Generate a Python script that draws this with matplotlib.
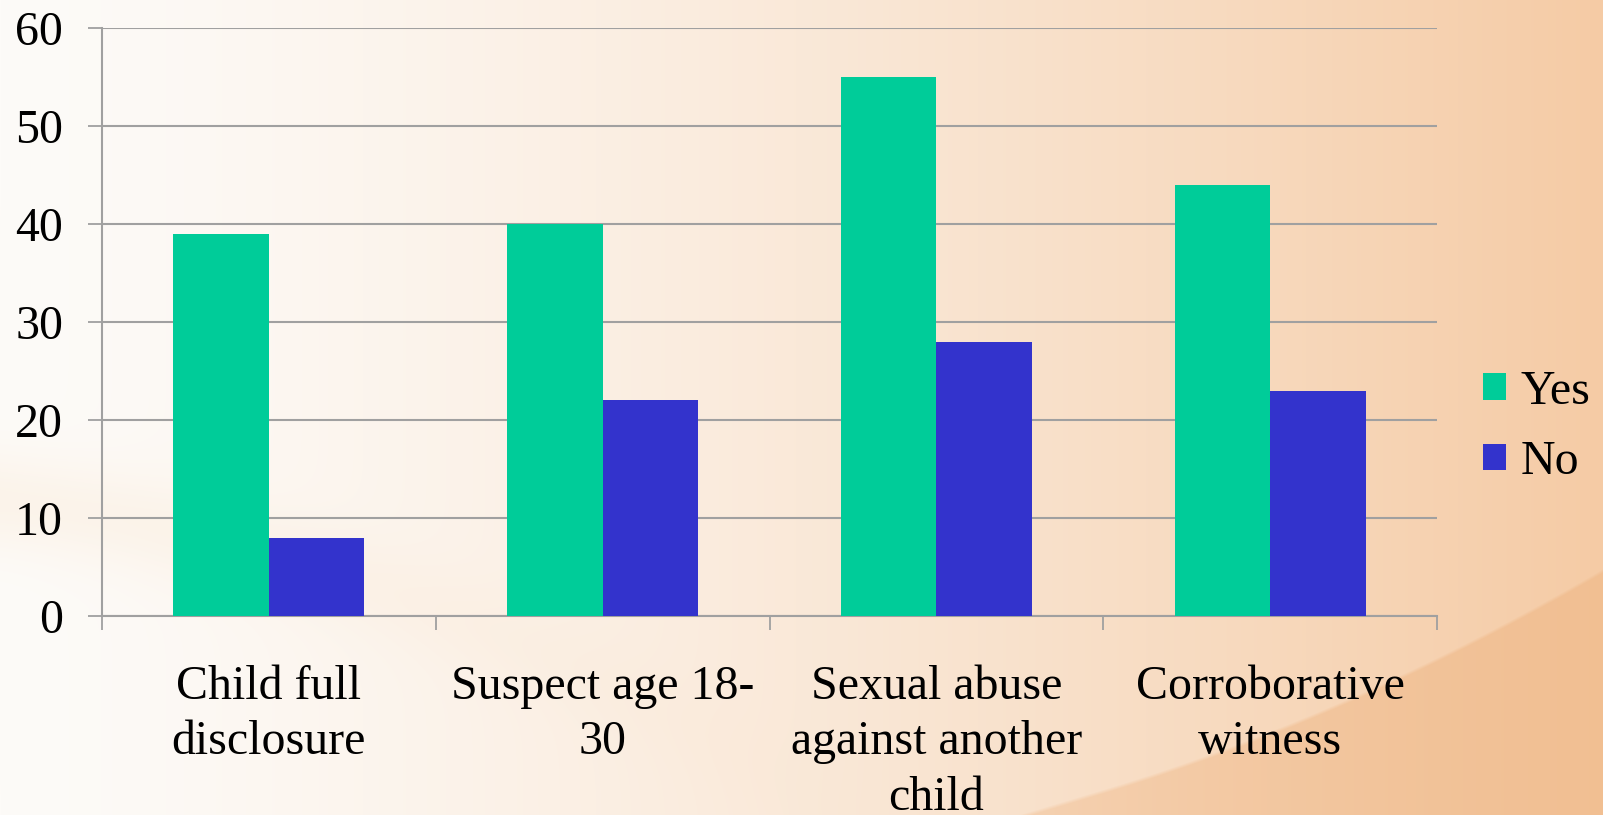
import numpy as np
import matplotlib
matplotlib.use("Agg")
import matplotlib.pyplot as plt
from matplotlib.patches import Patch

plt.rcParams['font.family'] = ['Liberation Serif', 'DejaVu Serif']

categories = ["Child full\ndisclosure", "Suspect age 18-\n30", "Sexual abuse\nagainst another\nchild", "Corroborative\nwitness"]
yes_values = [39, 40, 55, 44]
no_values = [8, 22, 28, 23]
series_names = ["Yes", "No"]
y_ticks = [0, 10, 20, 30, 40, 50, 60]

W, H = 1603, 815
fig = plt.figure(figsize=(W / 100, H / 100), dpi=100)

# ---- background (gradient + swooshes) ----
xx, yy = np.meshgrid(np.arange(W), np.arange(H))
t = (xx / W) ** 1.4
left = np.array([253, 251, 248]) / 255
right = np.array([245, 203, 165]) / 255
img = left[None, None, :] * (1 - t[..., None]) + right[None, None, :] * t[..., None]
# lower-left soft peach band
xc = xx.astype(float)
band_center = 500 + 0.0003 * xc ** 2 + 0.12 * xc
d = (yy - band_center)
band = np.exp(-(d / 50.0) ** 2) * np.clip(1 - xc / 1100, 0, 1)
peach = np.array([249, 230, 208]) / 255
img = img * (1 - 0.35 * band[..., None]) + peach[None, None, :] * (0.35 * band[..., None])
# bottom-right darker region
curve = 790 - (xc - 1100) * 0.30 - ((xc - 1100).clip(0) ** 2) * 0.00028
mask = (yy > curve) & (xx > 900)
soft = np.clip((yy - curve) / 4.0, 0, 1) * mask
dark = np.array([240, 188, 142]) / 255
tt = np.clip((xc - 900) / 700, 0, 1)
mix = soft * (0.35 + 0.45 * tt)
img = img * (1 - mix[..., None]) + dark[None, None, :] * mix[..., None]

bg = fig.add_axes([0, 0, 1, 1], zorder=0)
bg.imshow(img, aspect='auto', extent=[0, 1, 0, 1], origin='upper')
bg.axis('off')

# ---- chart ----
ax = fig.add_axes([102 / W, 1 - 616 / H, (1437 - 102) / W, (616 - 28) / H], zorder=1)
ax.patch.set_alpha(0)

x = np.arange(len(categories))
bw = 0.286
green = "#00CC99"
blue = "#3333CC"
ax.bar(x - bw / 2, yes_values, width=bw, color=green, zorder=3, label=series_names[0])
ax.bar(x + bw / 2, no_values, width=bw, color=blue, zorder=3, label=series_names[1])

ax.set_xlim(-0.5, len(categories) - 0.5)
ax.set_ylim(0, 60)
ax.set_yticks(y_ticks)
ax.set_yticklabels([str(v) for v in y_ticks], fontsize=34.5)
ax.yaxis.grid(True, color='#A0A0A0', linewidth=1.5, zorder=0)
ax.set_axisbelow(True)

ax.set_xticks(np.arange(len(categories) + 1) - 0.5)
ax.set_xticklabels([])
ax.set_xticks(x, minor=True)
ax.set_xticklabels(categories, minor=True, fontsize=34.5, linespacing=1.34)
ax.tick_params(axis='x', which='minor', length=0, pad=35)
ax.tick_params(axis='x', which='major', length=10, width=1.3, color='#A0A0A0')
ax.tick_params(axis='y', length=10, width=1.3, color='#A0A0A0', pad=18)

for s in ['top', 'right']:
    ax.spines[s].set_visible(False)
for s in ['left', 'bottom']:
    ax.spines[s].set_color('#A0A0A0')
    ax.spines[s].set_linewidth(1.5)

handles = [Patch(facecolor=green, edgecolor='none'), Patch(facecolor=blue, edgecolor='none')]
fig.legend(handles, series_names, loc='center left', bbox_to_anchor=(1483 / W, 1 - 427 / H),
           frameon=False, fontsize=34.5, handlelength=0.48, handleheight=0.48,
           handletextpad=0.3, labelspacing=0.55, borderpad=0, borderaxespad=0)

fig.savefig("out.png", dpi=100)
